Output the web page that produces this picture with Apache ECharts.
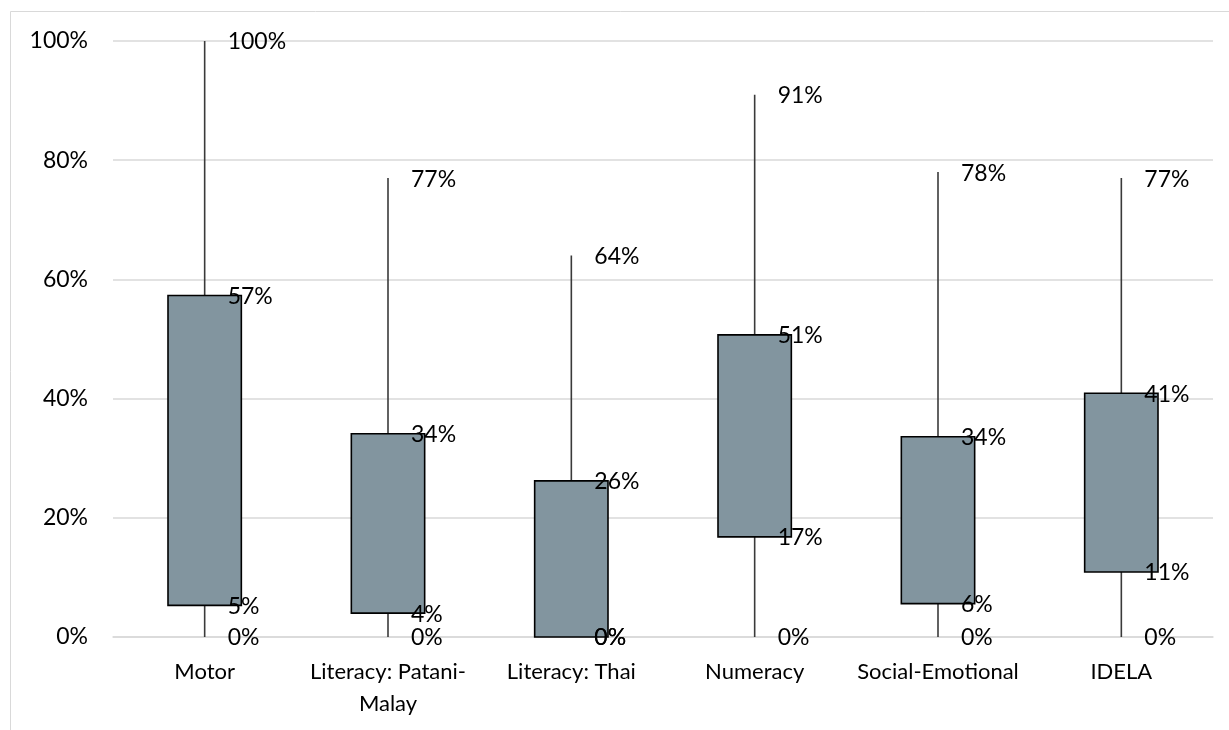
<!DOCTYPE html>
<html>
<head>
<meta charset="utf-8">
<script src="https://cdn.jsdelivr.net/npm/echarts@6/dist/echarts.min.js"></script>
<style>
  html, body { margin: 0; padding: 0; background: #fff; }
  #chart { width: 1229px; height: 730px; }
</style>
</head>
<body>
<div id="chart"></div>
<script>
// Domains of the assessment
const categories = ['Motor', 'Literacy: Patani-\nMalay', 'Literacy: Thai', 'Numeracy', 'Social-Emotional', 'IDELA'];
// Score distribution per domain, in percent
const minValues = [0, 0, 0, 0, 0, 0];
const q1Values  = [5.3, 4.0, 0, 16.8, 5.6, 10.9];
const q3Values  = [57.3, 34.1, 26.2, 50.7, 33.6, 40.9];
const maxValues = [100, 77, 64, 91, 78, 77];
// Value axis ticks
const yTicks = [0, 20, 40, 60, 80, 100];

const FONT = 'Lato';
const TEXT = '#000000';

const boxData = categories.map((c, i) => [i, minValues[i], q1Values[i], q3Values[i], maxValues[i]]);

function labelSeries(values) {
  return {
    type: 'scatter',
    symbolSize: 0,
    z: 5,
    silent: true,
    itemStyle: { opacity: 1 },
    data: values.map((v, i) => [i, v]),
    label: {
      show: true,
      position: 'right',
      distance: 23,
      offset: [0, 1],
      fontFamily: FONT,
      fontSize: 23,
      color: TEXT,
      opacity: 1,
      formatter: p => Math.round(p.value[1]) + '%'
    }
  };
}

const chart = echarts.init(document.getElementById('chart'), null, { renderer: 'canvas' });
chart.setOption({
  animation: false,
  backgroundColor: '#ffffff',
  graphic: [{
    type: 'rect',
    shape: { x: 10.5, y: 11.5, width: 1300, height: 800 },
    style: { fill: 'none', stroke: '#d9d9d9', lineWidth: 1 },
    silent: true,
    z: -10
  }],
  grid: { left: 113, right: 16, top: 41, bottom: 93, containLabel: false },
  xAxis: {
    type: 'category',
    data: categories,
    axisLine: { show: true, lineStyle: { color: '#d9d9d9', width: 1.5 } },
    axisTick: { show: false },
    axisLabel: {
      interval: 0,
      margin: 19,
      fontFamily: FONT,
      fontSize: 22,
      lineHeight: 32,
      color: TEXT
    }
  },
  yAxis: {
    type: 'value',
    min: yTicks[0],
    max: yTicks[yTicks.length - 1],
    interval: yTicks[1] - yTicks[0],
    axisLine: { show: false },
    axisTick: { show: false },
    splitLine: { lineStyle: { color: '#d9d9d9', width: 1.5 } },
    axisLabel: {
      margin: 25,
      fontFamily: FONT,
      fontSize: 23,
      color: TEXT,
      formatter: v => v + '%'
    }
  },
  series: [
    {
      type: 'custom',
      z: 3,
      data: boxData,
      encode: { x: 0, y: [1, 2, 3, 4] },
      renderItem: function (params, api) {
        const idx = api.value(0);
        const pMin = api.coord([idx, api.value(1)]);
        const pQ1 = api.coord([idx, api.value(2)]);
        const pQ3 = api.coord([idx, api.value(3)]);
        const pMax = api.coord([idx, api.value(4)]);
        const bw = api.size([1, 0])[0] * 0.4;
        const x = pMin[0];
        return {
          type: 'group',
          children: [
            {
              type: 'line',
              shape: { x1: x, y1: pMax[1], x2: x, y2: pMin[1] },
              style: { stroke: '#3a3a3a', lineWidth: 1.6 }
            },
            {
              type: 'rect',
              shape: { x: x - bw / 2, y: pQ3[1], width: bw, height: pQ1[1] - pQ3[1] },
              style: { fill: '#82959f', stroke: '#000000', lineWidth: 1.6 }
            }
          ]
        };
      }
    },
    labelSeries(maxValues),
    labelSeries(q3Values),
    labelSeries(q1Values),
    labelSeries(minValues)
  ]
});
</script>
</body>
</html>
